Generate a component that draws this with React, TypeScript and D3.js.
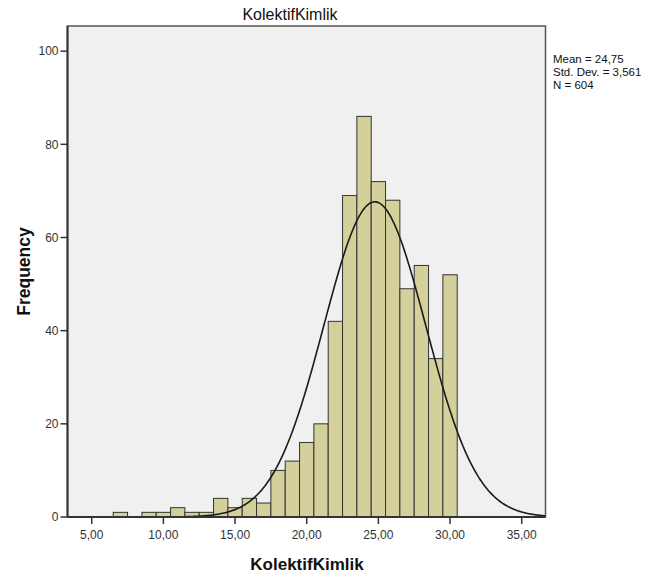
import React from "react";
import * as d3 from "d3";

const binCenters = [7, 8, 9, 10, 11, 12, 13, 14, 15, 16, 17, 18, 19, 20, 21, 22, 23, 24, 25, 26, 27, 28, 29, 30];
const frequencies = [1, 0, 1, 1, 2, 1, 1, 4, 2, 4, 3, 10, 12, 16, 20, 42, 69, 86, 72, 68, 49, 54, 34, 52];
const xTicks = [5, 10, 15, 20, 25, 30, 35];
const yTicks = [0, 20, 40, 60, 80, 100];
const mean = 24.75;
const sd = 3.561;
const n = 604;
const statLines = ["Mean = 24,75", "Std. Dev. = 3,561", "N = 604"];

const W = 653;
const H = 579;
const left = 67.5;
const right = 545.5;
const top = 26;
const bottom = 517;

export default function App() {
  const x = d3.scaleLinear().domain([3.31, 36.66]).range([left, right]);
  const y = d3.scaleLinear().domain([0, 105.4]).range([bottom, top]);
  const fmt = (v: number) => v.toFixed(2).replace(".", ",");

  const [x0, x1] = x.domain();
  // normal curve from the reported mean / sd / N (bin width 1)
  const curvePts = d3.range(0, 401).map((i) => {
    const xv = x0 + ((x1 - x0) * i) / 400;
    const dens = (n / (sd * Math.sqrt(2 * Math.PI))) * Math.exp(-0.5 * ((xv - mean) / sd) ** 2);
    return [xv, dens] as [number, number];
  });
  const line = d3
    .line<[number, number]>()
    .x((d) => x(d[0]))
    .y((d) => y(d[1]))
    .curve(d3.curveBasis);

  const font = "'Liberation Sans', Arial, sans-serif";

  return (
    <svg width={W} height={H} style={{ position: "absolute", left: 0, top: 0 }} fontFamily={font}>
      <rect x={0} y={0} width={W} height={H} fill="#fff" />
      <rect x={left} y={top} width={right - left} height={bottom - top} fill="#f0f0f0" stroke="#555" strokeWidth={1.5} />
      <defs>
        <clipPath id="plot">
          <rect x={left} y={top} width={right - left} height={bottom - top} />
        </clipPath>
      </defs>
      <g>
        {binCenters.map((c, i) =>
          frequencies[i] > 0 ? (
            <rect
              key={c}
              x={x(c - 0.5)}
              y={y(frequencies[i])}
              width={x(c + 0.5) - x(c - 0.5)}
              height={bottom - y(frequencies[i])}
              fill="#d4d09b"
              stroke="#333"
              strokeWidth={1}
            />
          ) : null
        )}
      </g>
      <path d={line(curvePts) || ""} fill="none" stroke="#1a1a1a" strokeWidth={1.6} clipPath="url(#plot)" />
      <line x1={left} y1={top} x2={left} y2={bottom} stroke="#333" strokeWidth={2} />
      <line x1={left} y1={bottom} x2={right} y2={bottom} stroke="#333" strokeWidth={2} />
      {yTicks.map((t) => (
        <g key={t}>
          <line x1={left - 7} x2={left} y1={y(t)} y2={y(t)} stroke="#333" strokeWidth={1.5} />
          <text x={left - 9} y={y(t)} dy="0.35em" textAnchor="end" fontSize={12} fill="#333">
            {t}
          </text>
        </g>
      ))}
      {xTicks.map((t) => (
        <g key={t}>
          <line x1={x(t)} x2={x(t)} y1={bottom} y2={bottom + 7} stroke="#333" strokeWidth={1.5} />
          <text x={x(t)} y={bottom + 22} textAnchor="middle" fontSize={12} fill="#333">
            {fmt(t)}
          </text>
        </g>
      ))}
      <text x={290} y={20} textAnchor="middle" fontSize={16} fill="#111">
        KolektifKimlik
      </text>
      <text x={307} y={570} textAnchor="middle" fontSize={17} fontWeight="bold" fill="#111">
        KolektifKimlik
      </text>
      <text transform={`translate(30,${(top + bottom) / 2}) rotate(-90)`} textAnchor="middle" fontSize={17.5} fontWeight="bold" fill="#111">
        Frequency
      </text>
      {statLines.map((s, i) => (
        <text key={s} x={553} y={63 + i * 13} fontSize={11.5} fill="#111">
          {s}
        </text>
      ))}
    </svg>
  );
}
